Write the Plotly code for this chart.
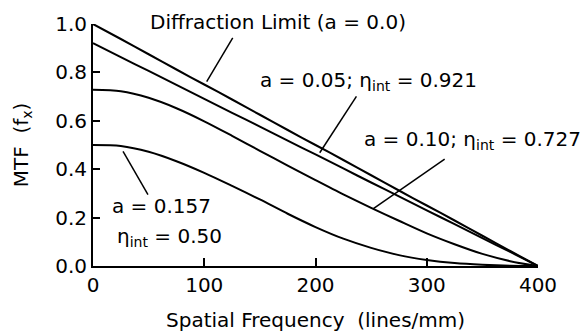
import plotly.graph_objects as go

freq = [0, 25, 50, 75, 100, 125, 150, 175, 200, 225, 250, 275, 300, 325, 350, 375, 400]
mtf_a000 = [1.000, 0.938, 0.875, 0.812, 0.750, 0.688, 0.625, 0.562, 0.500, 0.438, 0.375, 0.312, 0.250, 0.188, 0.125, 0.062, 0.000]
mtf_a005 = [0.921, 0.863, 0.806, 0.748, 0.691, 0.633, 0.576, 0.518, 0.461, 0.403, 0.345, 0.288, 0.230, 0.173, 0.115, 0.058, 0.000]
mtf_a010 = [0.728, 0.722, 0.695, 0.652, 0.598, 0.538, 0.476, 0.415, 0.355, 0.296, 0.240, 0.187, 0.135, 0.090, 0.050, 0.020, 0.000]
mtf_a157 = [0.500, 0.496, 0.472, 0.433, 0.385, 0.331, 0.275, 0.216, 0.161, 0.113, 0.075, 0.045, 0.025, 0.012, 0.005, 0.001, 0.000]

x_ticks = [0, 100, 200, 300, 400]
y_ticks = [0.0, 0.2, 0.4, 0.6, 0.8, 1.0]

FONT = "DejaVu Sans, Liberation Sans, Arial, sans-serif"
FS = 20

fig = go.Figure()
for ys in [mtf_a000, mtf_a005, mtf_a010, mtf_a157]:
    fig.add_trace(go.Scatter(x=freq, y=ys, mode="lines",
                             line=dict(color="black", width=2, shape="spline", smoothing=0.8),
                             cliponaxis=False, showlegend=False, hoverinfo="skip"))

labels = [
    dict(text="a = 0.05; η<sub>int</sub> = 0.921", x=148, y=0.765),
    dict(text="a = 0.10; η<sub>int</sub> = 0.727", x=242, y=0.522),
    dict(text="a = 0.157", x=15, y=0.246),
    dict(text="η<sub>int</sub> = 0.50", x=19.6, y=0.12),
]
annotations = []
for lb in labels:
    annotations.append(dict(text=lb["text"], x=lb["x"], y=lb["y"], xref="x", yref="y",
                            xanchor="left", yanchor="middle", showarrow=False,
                            font=dict(family=FONT, size=FS, color="black")))

annotations.append(dict(text="Diffraction Limit (a = 0.0)", xref="paper", yref="paper",
                        x=0.124, y=1.01, xanchor="left", yanchor="middle", showarrow=False,
                        font=dict(family=FONT, size=FS, color="black")))
annotations.append(dict(text="Spatial Frequency  (lines/mm)", xref="paper", yref="paper",
                        x=0.5, y=-0.222, xanchor="center", yanchor="middle", showarrow=False,
                        font=dict(family=FONT, size=FS, color="black")))
annotations.append(dict(text="MTF  (f<sub>x</sub>)", xref="paper", yref="paper",
                        x=-0.159, y=0.5, xanchor="center", yanchor="middle", showarrow=False,
                        textangle=-90, font=dict(family=FONT, size=FS, color="black")))

leaders = [
    (125.6, 0.943, 102.2, 0.762),
    (236.8, 0.701, 203.8, 0.468),
    (316.1, 0.442, 251.7, 0.236),
    (27.0, 0.474, 49.4, 0.295),
]
shapes = [dict(type="line", xref="x", yref="y", x0=a, y0=b, x1=c, y1=d,
               line=dict(color="black", width=1.5)) for a, b, c, d in leaders]

fig.update_layout(
    width=581, height=333,
    margin=dict(l=93, r=43, t=24, b=67),
    paper_bgcolor="white", plot_bgcolor="white",
    font=dict(family=FONT, size=FS, color="black"),
    annotations=annotations, shapes=shapes,
    xaxis=dict(range=[0, 400], tickvals=x_ticks, ticktext=[str(v) for v in x_ticks],
               ticks="inside", ticklen=8, tickwidth=1.5, tickcolor="black",
               showline=True, linecolor="black", linewidth=2, showgrid=False, zeroline=False,
               tickfont=dict(family=FONT, size=FS, color="black")),
    yaxis=dict(range=[0, 1.0], tickvals=y_ticks, ticktext=[f"{v:.1f}" for v in y_ticks],
               ticks="inside", ticklen=7, tickwidth=1.5, tickcolor="black",
               showline=True, linecolor="black", linewidth=2, showgrid=False, zeroline=False,
               tickfont=dict(family=FONT, size=FS, color="black")),
)

fig.write_html("out.html", config={"displayModeBar": False},
               post_script="document.body.style.margin='0';")
